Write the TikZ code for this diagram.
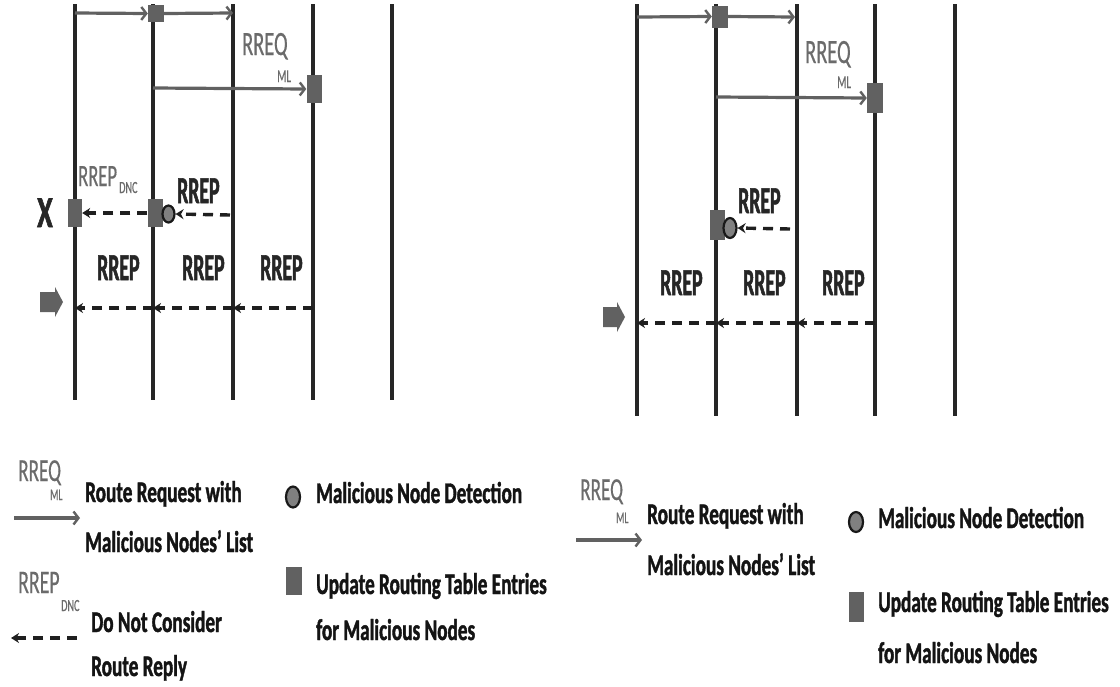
\documentclass[tikz,border=0pt]{standalone}
\usepackage{fontspec}
\newfontfamily\lgdfont[FakeStretch=0.64,FakeBold=1.3]{Carlito}
\newfontfamily\labfont[FakeStretch=0.52,FakeBold=1.3]{Carlito}
\newfontfamily\gryfont[FakeStretch=0.6,FakeBold=0.4]{Carlito}
\usetikzlibrary{arrows.meta,shapes.geometric}
\tikzset{
 lifeline/.style={line width=3.3pt, draw=black!85},
 req/.style={line width=3.2pt, draw=black!62, -{Straight Barb[length=5pt,width=13pt,line width=2.4pt]}},
 rep/.style={line width=3.4pt, draw=black!88, dash pattern=on 10pt off 7pt, -{Stealth[length=8pt,width=10pt]}},
 upd/.style={fill=black!62, draw=none, inner sep=0, minimum width=15pt, minimum height=28pt},
 det/.style={ellipse, draw=black!90, line width=2.2pt, fill=black!50, inner sep=0, minimum width=12pt, minimum height=17pt},
 txt/.style={anchor=base west, inner sep=0, text=black!92, font={\lgdfont\bfseries\fontsize{30}{30}\selectfont}},
 lbl/.style={anchor=base west, inner sep=0, text=black!85, font={\labfont\bfseries\fontsize{38}{38}\selectfont}},
 glbl/.style={anchor=base west, inner sep=0, text=black!58, font={\gryfont\fontsize{#1}{#1}\selectfont}},
 sublbl/.style={anchor=base west, inner sep=0, text=black!58, font={\gryfont\fontsize{#1}{#1}\selectfont}},
 blkfill/.style={fill=black!62},
}
\begin{document}
\begin{tikzpicture}[x=1pt,y=-1pt]
\useasboundingbox (0,0) rectangle (1120,686);
\fill[white] (0,0) rectangle (1120,686);

% ---------- left diagram: lifelines ----------
\foreach \n/\x in {1/75,2/153,3/233,4/313,5/392}{
  \coordinate (LT\n) at (\x,4);
  \coordinate (LB\n) at (\x,400);
  \draw[lifeline] (LT\n) -- (LB\n);
}
% ---------- right diagram: lifelines ----------
\foreach \n/\x in {1/637,2/716,3/797,4/875,5/955}{
  \coordinate (RT\n) at (\x,4);
  \coordinate (RB\n) at (\x,416);
  \draw[lifeline] (RT\n) -- (RB\n);
}

% ---------- left diagram: markers ----------
\node[upd, minimum height=17pt, minimum width=16pt] (sqA) at (156,13.5) {};
\node[upd] (sqB) at (314,89) {};
\node[upd, minimum width=14pt] (sqC) at (75,213) {};
\node[upd] (sqD) at (155,213) {};
\node[det] (detL) at (168.5,214) {};

\coordinate (a1) at (75,13);
\coordinate (a2) at (233,13);
\coordinate (a3) at (153,88);
\coordinate (a4) at (230,215);
\draw[req] (a1) -- (sqA.west);
\draw[req] (sqA.east) -- (a2);
\draw[req] (a3) -- (sqB.west);
\draw[rep] (a4) -- (detL.east);
\draw[rep] (sqD.west) -- (sqC.east);

\coordinate (b4) at (313,308);
\coordinate (b3) at (233,308);
\coordinate (b2) at (153,308);
\coordinate (b1) at (75,308);
\draw[rep] (b4) -- (b3);
\draw[rep] (b3) -- (b2);
\draw[rep] (b2) -- (b1);

\node[glbl=34] (lq) at (242,55) {RREQ};
\node[sublbl=18] (lml) at (277,82) {ML};
\node[glbl=31] (ldnc) at (78,186) {RREP};
\node[sublbl=17] (ldncs) at (119,193) {DNC};
\node[lbl] (lrep0) at (177,203) {RREP};
\node[lbl] (lrep1) at (97,280) {RREP};
\node[lbl] (lrep2) at (182,280) {RREP};
\node[lbl] (lrep3) at (260,280) {RREP};
\node[anchor=base west, inner sep=0, text=black!85, font={\lgdfont\bfseries\fontsize{44}{44}\selectfont}] (lx) at (37,227) {X};
\fill[blkfill] (40,292) -- (55,292) -- (55,287) -- (63,302) -- (55,317) -- (55,312) -- (40,312) -- cycle;

% ---------- right diagram: markers ----------
\node[upd, minimum height=22pt, minimum width=16pt] (sqE) at (720,16.5) {};
\node[upd, minimum height=30pt, minimum width=16pt] (sqF) at (875,98) {};
\node[upd, minimum height=30pt] (sqG) at (717,225) {};
\node[det, minimum width=13pt, minimum height=20pt] (detR) at (730,228) {};

\coordinate (c1) at (637,17);
\coordinate (c2) at (795,17);
\coordinate (c3) at (716,97);
\coordinate (c4) at (790,229);
\draw[req] (c1) -- (sqE.west);
\draw[req] (sqE.east) -- (c2);
\draw[req] (c3) -- (sqF.west);
\draw[rep] (c4) -- (detR.east);

\coordinate (d4) at (875,323);
\coordinate (d3) at (797,323);
\coordinate (d2) at (716,323);
\coordinate (d1) at (637,323);
\draw[rep] (d4) -- (d3);
\draw[rep] (d3) -- (d2);
\draw[rep] (d2) -- (d1);

\node[glbl=34] (rq) at (805,63) {RREQ};
\node[sublbl=18] (rml) at (837,88) {ML};
\node[lbl] (rrep0) at (738,213) {RREP};
\node[lbl] (rrep1) at (660,295) {RREP};
\node[lbl] (rrep2) at (743,295) {RREP};
\node[lbl] (rrep3) at (822,295) {RREP};
\fill[blkfill] (603,307) -- (617,307) -- (617,302) -- (625,317) -- (617,332) -- (617,327) -- (603,327) -- cycle;

% ---------- left legend ----------
\coordinate (e1) at (14,518);
\coordinate (e2) at (80,518);
\draw[req] (e1) -- (e2);
\node[glbl=32] (lgq) at (18,481) {RREQ};
\node[sublbl=16] (lgml) at (50,500) {ML};
\node[txt] (lg1) at (85,502) {Route Request with};
\node[txt] (lg2) at (85,552) {Malicious Nodes’ List};
\coordinate (e3) at (77,638);
\coordinate (e4) at (11,638);
\draw[rep] (e3) -- (e4);
\node[glbl=33] (lgdnc) at (18,593) {RREP};
\node[sublbl=17] (lgdncs) at (61,611) {DNC};
\node[txt] (lg3) at (91,632) {Do Not Consider};
\node[txt] (lg4) at (91,676) {Route Reply};
\node[det, minimum width=14pt, minimum height=21pt] (lgdet) at (293,497) {};
\node[txt] (lg5) at (316,503) {Malicious Node Detection};
\node[upd, minimum width=16pt] (lgsq) at (294,581) {};
\node[txt] (lg6) at (316,594) {Update Routing Table Entries};
\node[txt] (lg7) at (316,640) {for Malicious Nodes};

% ---------- right legend ----------
\coordinate (f1) at (576,540);
\coordinate (f2) at (642,540);
\draw[req] (f1) -- (f2);
\node[glbl=32] (rgq) at (580,500) {RREQ};
\node[sublbl=16] (rgml) at (616,523) {ML};
\node[txt] (rg1) at (647,524) {Route Request with};
\node[txt] (rg2) at (647,575) {Malicious Nodes’ List};
\node[det, minimum width=14pt, minimum height=20pt] (rgdet) at (856,522) {};
\node[txt] (rg5) at (878,528) {Malicious Node Detection};
\node[upd, minimum width=15pt, minimum height=30pt] (rgsq) at (856,607) {};
\node[txt] (rg6) at (878,612) {Update Routing Table Entries};
\node[txt] (rg7) at (878,663) {for Malicious Nodes};
\end{tikzpicture}
\end{document}
